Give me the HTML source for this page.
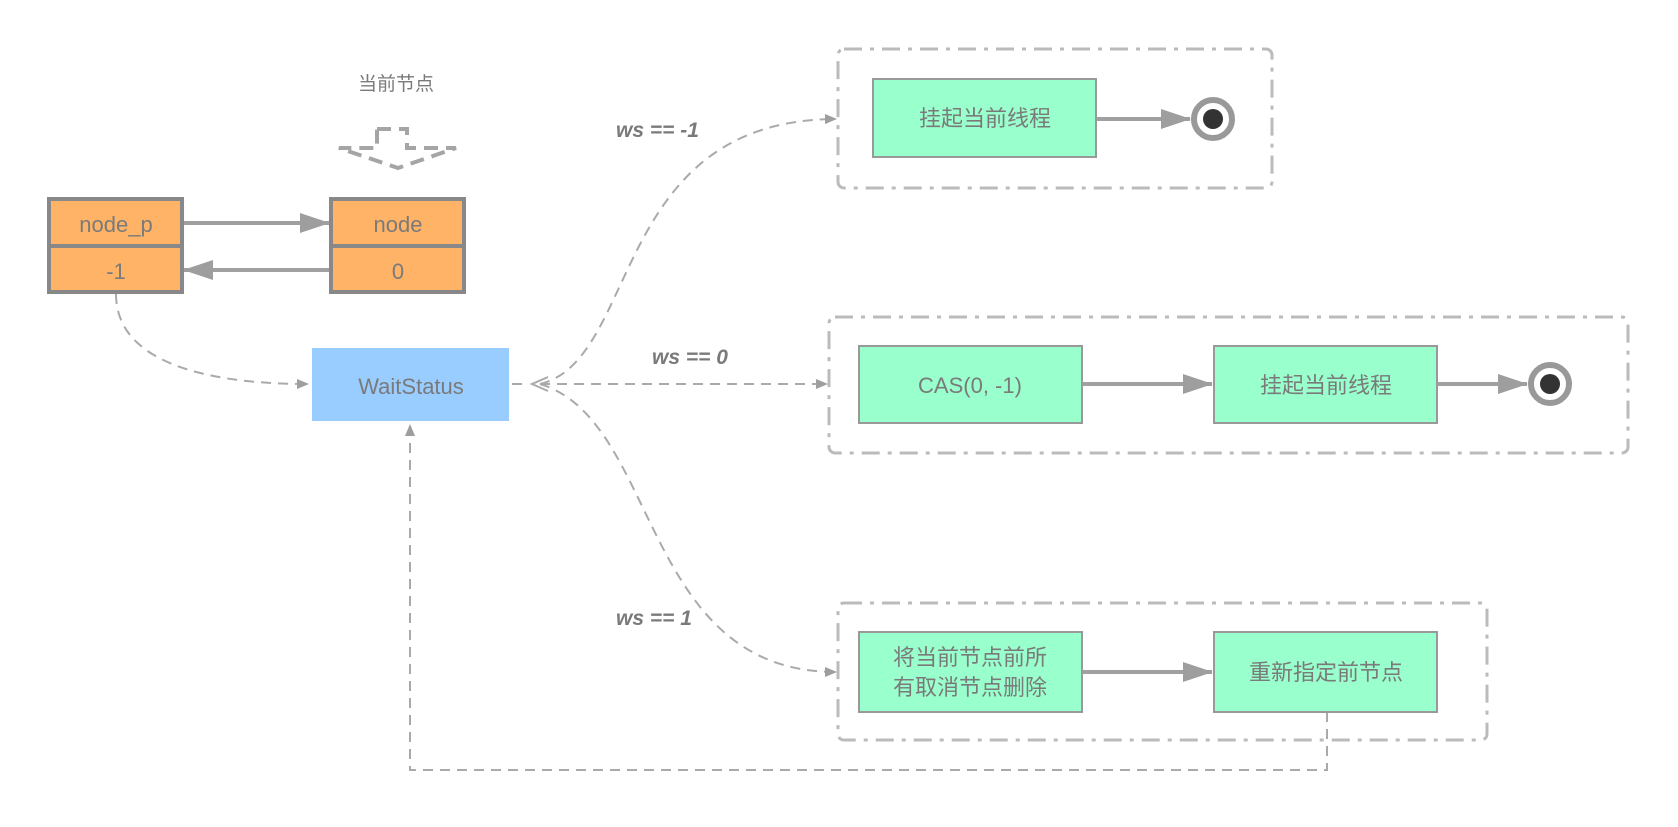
<!DOCTYPE html>
<html><head><meta charset="utf-8"><style>
html,body{margin:0;padding:0;background:#fff;}
svg text{font-family:"Liberation Sans","Noto Sans CJK SC",sans-serif;fill:#7a7a7a;}
</style></head><body>
<svg width="1678" height="822" viewBox="0 0 1678 822" xmlns="http://www.w3.org/2000/svg">
<defs>
<marker id="a" markerWidth="12" markerHeight="10" refX="11" refY="5" orient="auto" markerUnits="userSpaceOnUse"><path d="M0,0 L12,5 L0,10 z" fill="#9e9e9e"/></marker>
<marker id="b" markerWidth="30" markerHeight="20" refX="29" refY="10" orient="auto" markerUnits="userSpaceOnUse"><path d="M0,0 L30,10 L0,20 z" fill="#9e9e9e"/></marker>
</defs>
<text x="396" y="90" font-size="19" text-anchor="middle">当前节点</text>
<g stroke="#a5a5a5" stroke-width="4" fill="none" stroke-dasharray="14,8">
<path d="M377,129 H407 V148 H456 L398,168 L339,148 H377 V129"/>
</g>
<!-- nodes -->
<g stroke="#888" stroke-width="4" fill="#ffb366">
<rect x="49" y="199" width="133" height="93"/><line x1="49" y1="246" x2="182" y2="246"/>
<rect x="331" y="199" width="133" height="93"/><line x1="331" y1="246" x2="464" y2="246"/>
</g>
<g font-size="22" text-anchor="middle">
<text x="116" y="232">node_p</text><text x="116" y="279">-1</text>
<text x="398" y="232">node</text><text x="398" y="279">0</text>
</g>
<line x1="184" y1="223" x2="329" y2="223" stroke="#a0a0a0" stroke-width="4" marker-end="url(#b)"/>
<line x1="329" y1="270" x2="184" y2="270" stroke="#a0a0a0" stroke-width="4" marker-end="url(#b)"/>
<!-- WaitStatus -->
<rect x="312" y="348" width="197" height="73" fill="#99ccff"/>
<text x="411" y="394" font-size="22" text-anchor="middle">WaitStatus</text>
<!-- dashed connectors -->
<g stroke="#aaa" stroke-width="2" fill="none" stroke-dasharray="10,7">
<path d="M116,294 C116,360 200,384 308,384" marker-end="url(#a)"/>
<path d="M512,384 H526"/>
<path d="M540,384 C640,360 610,120 836,119" marker-end="url(#a)"/>
<path d="M540,384 H827" marker-end="url(#a)"/>
<path d="M540,384 C660,420 640,672 836,672" marker-end="url(#a)"/>
<path d="M1327,712 V770 H410 V425" marker-end="url(#a)"/>
</g>
<path d="M548,377 L532,384 L548,391" stroke="#aaa" stroke-width="2" fill="none"/>
<g font-size="21" font-weight="bold" font-style="italic">
<text x="616" y="137">ws == -1</text>
<text x="652" y="364">ws == 0</text>
<text x="616" y="625">ws == 1</text>
</g>
<!-- groups -->
<g stroke="#bbb" stroke-width="3" fill="none" stroke-dasharray="18,8,4,8">
<rect x="838" y="49" width="434" height="139" rx="6"/>
<rect x="829" y="317" width="799" height="136" rx="6"/>
<rect x="838" y="603" width="649" height="137" rx="6"/>
</g>
<g fill="#99ffcc" stroke="#999" stroke-width="2">
<rect x="873" y="79" width="223" height="78"/>
<rect x="859" y="346" width="223" height="77"/>
<rect x="1214" y="346" width="223" height="77"/>
<rect x="859" y="632" width="223" height="80"/>
<rect x="1214" y="632" width="223" height="80"/>
</g>
<g font-size="22" text-anchor="middle">
<text x="985" y="126">挂起当前线程</text>
<text x="970" y="393">CAS(0, -1)</text>
<text x="1326" y="393">挂起当前线程</text>
<text x="970" y="665">将当前节点前所</text>
<text x="970" y="695">有取消节点删除</text>
<text x="1326" y="680">重新指定前节点</text>
</g>
<g stroke="#a0a0a0" stroke-width="4">
<line x1="1097" y1="119" x2="1190" y2="119" marker-end="url(#b)"/>
<line x1="1083" y1="384" x2="1212" y2="384" marker-end="url(#b)"/>
<line x1="1438" y1="384" x2="1527" y2="384" marker-end="url(#b)"/>
<line x1="1083" y1="672" x2="1212" y2="672" marker-end="url(#b)"/>
</g>
<g>
<circle cx="1213" cy="119" r="19" fill="#fff" stroke="#999" stroke-width="6"/><circle cx="1213" cy="119" r="10" fill="#333"/>
<circle cx="1550" cy="384" r="19" fill="#fff" stroke="#999" stroke-width="6"/><circle cx="1550" cy="384" r="10" fill="#333"/>
</g>
</svg>
</body></html>
